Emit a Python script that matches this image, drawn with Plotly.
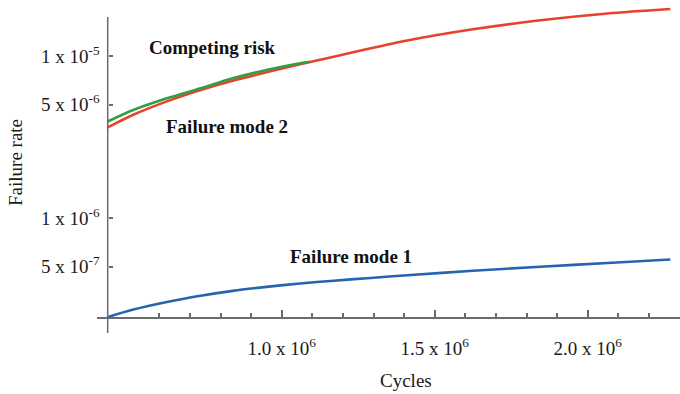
import plotly.graph_objects as go

# ---- data ----
cycles = [0.430e6, 0.515e6, 0.625e6, 0.735e6, 0.840e6, 0.950e6, 1.060e6,
          1.170e6, 1.280e6, 1.410e6, 1.625e6, 1.845e6, 2.065e6, 2.270e6]
rate_mode1 = [2.44e-7, 2.72e-7, 3.03e-7, 3.31e-7, 3.55e-7, 3.755e-7, 3.94e-7,
              4.10e-7, 4.25e-7, 4.43e-7, 4.72e-7, 5.00e-7, 5.27e-7, 5.54e-7]
rate_mode2 = [3.61e-6, 4.34e-6, 5.25e-6, 6.17e-6, 7.04e-6, 7.93e-6, 8.89e-6,
              9.90e-6, 1.105e-5, 1.247e-5, 1.462e-5, 1.661e-5, 1.830e-5, 1.950e-5]
cycles_cr = [0.430e6, 0.515e6, 0.625e6, 0.735e6, 0.840e6, 0.950e6, 1.060e6, 1.092e6]
rate_cr = [3.93e-6, 4.64e-6, 5.48e-6, 6.32e-6, 7.28e-6, 8.20e-6, 9.02e-6, 9.22e-6]

x_major = [1.0e6, 1.5e6, 2.0e6]
x_major_text = ["1.0 x 10<sup>6</sup>", "1.5 x 10<sup>6</sup>", "2.0 x 10<sup>6</sup>"]
x_minor = [0.6e6, 0.7e6, 0.8e6, 0.9e6, 1.1e6, 1.2e6, 1.3e6, 1.4e6, 1.6e6,
           1.7e6, 1.8e6, 1.9e6, 2.1e6, 2.2e6, 2.3e6]
y_ticks = [5e-7, 1e-6, 5e-6, 1e-5]
y_tick_text = ["5 x 10<sup>-7</sup>", "1 x 10<sup>-6</sup>",
               "5 x 10<sup>-6</sup>", "1 x 10<sup>-5</sup>"]

BLUE = "#2565ad"
RED = "#e8412c"
GREEN = "#2f9e46"
AXIS = "#6b6b6b"
FONT = "Liberation Serif"

fig = go.Figure()
fig.add_trace(go.Scatter(x=cycles, y=rate_mode1, mode="lines",
                         line=dict(color=BLUE, width=2.6, shape="spline", smoothing=0.8),
                         name="Failure mode 1"))
fig.add_trace(go.Scatter(x=cycles, y=rate_mode2, mode="lines",
                         line=dict(color=RED, width=2.6, shape="spline", smoothing=0.8),
                         name="Failure mode 2"))
fig.add_trace(go.Scatter(x=cycles_cr, y=rate_cr, mode="lines",
                         line=dict(color=GREEN, width=2.6, shape="spline", smoothing=0.8),
                         name="Competing risk"))

W, H = 680, 394
ml, mr, mt, mb = 97, 0, 5, 61
pw, ph = W - ml - mr, H - mt - mb

def px2paper_x(px):
    return (px - ml) / pw

def px2paper_y(py):
    return (H - mb - py) / ph

fig.update_layout(
    width=W, height=H,
    margin=dict(l=ml, r=mr, t=mt, b=mb, pad=0),
    paper_bgcolor="white", plot_bgcolor="white",
    showlegend=False,
    font=dict(family=FONT, size=19, color="#1a1a1a"),
    xaxis=dict(
        range=[0.3964e6, 2.3016e6],
        anchor="free", position=px2paper_y(317.5),
        showgrid=False, zeroline=False,
        showline=True, linecolor=AXIS, linewidth=1.5,
        tickmode="array", tickvals=x_major, ticktext=x_major_text,
        ticks="inside", ticklen=7, tickwidth=1.5, tickcolor=AXIS,
        ticklabelstandoff=14,
        tickfont=dict(family=FONT, size=19, color="#1a1a1a"),
        minor=dict(tickmode="array", tickvals=x_minor, ticks="inside",
                   ticklen=4, tickwidth=1.5, tickcolor=AXIS, showgrid=False),
    ),
    yaxis=dict(
        type="log",
        range=[-6.710, -4.685],
        anchor="free", position=px2paper_x(107.7),
        showgrid=False, zeroline=False, showline=False,
        tickmode="array", tickvals=y_ticks, ticktext=y_tick_text,
        ticks="inside", ticklen=4, tickwidth=1.5, tickcolor=AXIS,
        ticklabelstandoff=8,
        tickfont=dict(family=FONT, size=19, color="#1a1a1a"),
    ),
)

# y axis line (stops short of the top of the plot area)
fig.add_shape(type="line", xref="paper", yref="paper",
              x0=px2paper_x(107.7), x1=px2paper_x(107.7),
              y0=0, y1=px2paper_y(17),
              line=dict(color=AXIS, width=1.5))

ann = [
    ("Competing risk", 212, 47),
    ("Failure mode 2", 227, 126),
    ("Failure mode 1", 351, 256),
]
for text, cx, cy in ann:
    fig.add_annotation(text="<b>" + text + "</b>", xref="paper", yref="paper",
                       x=px2paper_x(cx), y=px2paper_y(cy), showarrow=False,
                       xanchor="center", yanchor="middle",
                       font=dict(family=FONT, size=19, color="#111111"))

fig.add_annotation(text="Cycles", xref="paper", yref="paper",
                   x=px2paper_x(406), y=px2paper_y(380), showarrow=False,
                   xanchor="center", yanchor="middle",
                   font=dict(family=FONT, size=19, color="#1a1a1a"))
fig.add_annotation(text="Failure rate", xref="paper", yref="paper",
                   x=px2paper_x(15), y=px2paper_y(163), showarrow=False,
                   xanchor="center", yanchor="middle", textangle=-90,
                   font=dict(family=FONT, size=19, color="#1a1a1a"))

fig.write_html("out.html")
